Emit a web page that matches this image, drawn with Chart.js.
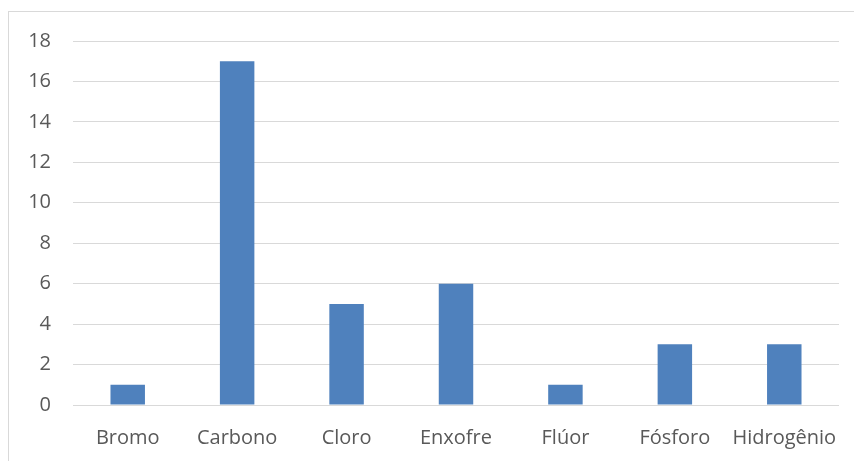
<!DOCTYPE html>
<html>
<head>
<meta charset="utf-8">
<script src="https://cdn.jsdelivr.net/npm/chart.js@4/dist/chart.umd.min.js"></script>
<style>
  html, body { margin: 0; padding: 0; background: #fff; }
  #wrap { position: relative; width: 854px; height: 461px; }
  #frame { position: absolute; left: 8px; top: 11px; right: 0; bottom: 0;
           border-left: 1px solid #d9d9d9; border-top: 1px solid #d9d9d9; pointer-events: none; }
  canvas { position: absolute; left: 0; top: 0; }
</style>
</head>
<body>
<div id="wrap">
  <canvas id="c" width="854" height="461"></canvas>
  <div id="frame"></div>
</div>
<script>
const categories = ['Bromo', 'Carbono', 'Cloro', 'Enxofre', 'Flúor', 'Fósforo', 'Hidrogênio'];
const counts = [1, 17, 5, 6, 1, 3, 3];
const yTicks = { min: 0, max: 18, step: 2 };

const textColor = '#595959';
const gridColor = '#d9d9d9';
const barColor = '#4f81bd';
const font = { family: "'Open Sans', sans-serif", size: 20 };

new Chart(document.getElementById('c'), {
  type: 'bar',
  data: {
    labels: categories,
    datasets: [{
      data: counts,
      backgroundColor: barColor,
      borderWidth: 0,
      categoryPercentage: 1,
      barPercentage: 0.315
    }]
  },
  options: {
    responsive: false,
    animation: false,
    devicePixelRatio: 1,
    layout: { padding: { left: 0, top: 41, right: 15, bottom: 0 } },
    plugins: { legend: { display: false }, tooltip: { enabled: false } },
    scales: {
      x: {
        grid: { display: false, drawTicks: false },
        border: { display: false },
        ticks: { color: textColor, font: font, padding: 21, maxRotation: 0, autoSkip: false },
        afterFit: (s) => { s.height = 56; s.paddingLeft = 0; s.paddingRight = 0; }
      },
      y: {
        min: yTicks.min,
        max: yTicks.max,
        grid: { color: gridColor, lineWidth: 1, drawTicks: false },
        border: { display: false },
        ticks: { stepSize: yTicks.step, color: textColor, font: font, padding: 22 },
        afterFit: (s) => { s.width = 73; s.paddingTop = 0; s.paddingBottom = 0; }
      }
    }
  }
});
</script>
</body>
</html>
